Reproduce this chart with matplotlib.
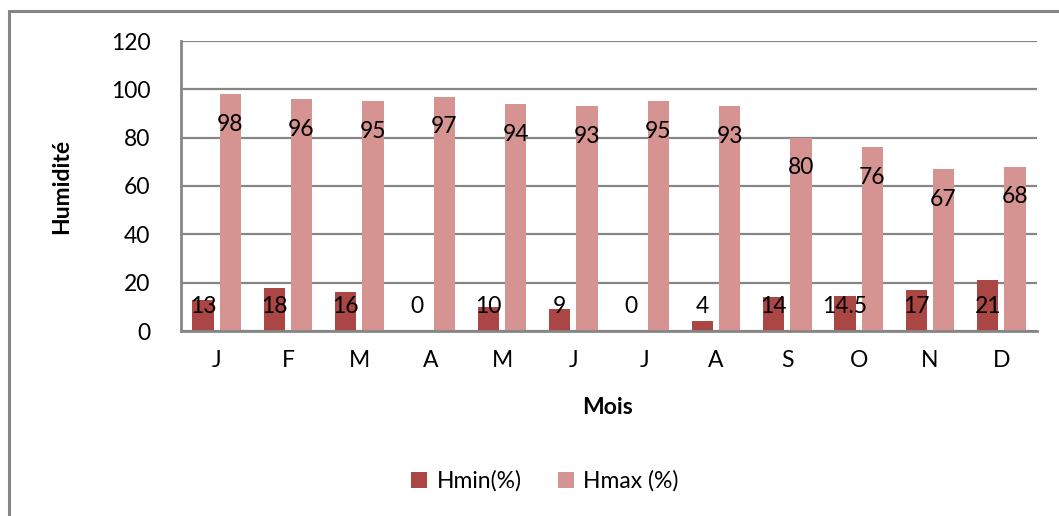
import matplotlib
matplotlib.use("Agg")
import matplotlib.pyplot as plt
import numpy as np
from matplotlib.patches import Rectangle

months = ["J", "F", "M", "A", "M", "J", "J", "A", "S", "O", "N", "D"]
hmin = [13, 18, 16, 0, 10, 9, 0, 4, 14, 14.5, 17, 21]
hmax = [98, 96, 95, 97, 94, 93, 95, 93, 80, 76, 67, 68]
hmin_labels = ["13", "18", "16", "0", "10", "9", "0", "4", "14", "14.5", "17", "21"]
hmax_labels = ["98", "96", "95", "97", "94", "93", "95", "93", "80", "76", "67", "68"]
yticks = [0, 20, 40, 60, 80, 100, 120]

plt.rcParams['font.family'] = ['Lato', 'DejaVu Sans']

c_min = "#AA4643"
c_max = "#D59392"
grid_c = "#868686"

fig = plt.figure(figsize=(10.59, 5.16), dpi=100)
W, H = 1059, 516

# outer chart frame (right/bottom edges beyond image)
fig.patches.append(Rectangle((9 / W, -0.1), 1.2, 1 - 11 / H + 0.1,
                             transform=fig.transFigure, fill=False,
                             edgecolor=grid_c, linewidth=2.2))

ax = fig.add_axes([181 / W, 1 - 331 / H, (1037 - 181) / W, (331 - 41) / H])
x = np.arange(len(months))
bw = 0.30
off = 0.19
ax.bar(x - off, hmin, width=bw, color=c_min, zorder=3, label="Hmin(%)")
ax.bar(x + off, hmax, width=bw, color=c_max, zorder=3, label="Hmax (%)")

fs = 16.5
for i in range(len(months)):
    ax.text(x[i] - off, 10, hmin_labels[i], ha="center", va="center",
            fontsize=fs, color="black", zorder=4)
    ax.text(x[i] + off, hmax[i] - 12.5, hmax_labels[i], ha="center", va="center",
            fontsize=fs, color="black", zorder=4)

ax.set_xlim(-0.5, len(months) - 0.5)
ax.set_ylim(0, 120)
ax.set_yticks(yticks)
ax.set_yticklabels([str(v) for v in yticks], fontsize=fs)
ax.set_xticks(x)
ax.set_xticklabels(months, fontsize=fs)
ax.tick_params(axis="both", length=0)
ax.tick_params(axis="x", pad=14)
ax.tick_params(axis="y", pad=22)
ax.yaxis.grid(True, color=grid_c, linewidth=1.6, zorder=0)
ax.set_axisbelow(True)
for s in ["top", "right"]:
    ax.spines[s].set_visible(False)
for s in ["left", "bottom"]:
    ax.spines[s].set_color(grid_c)
    ax.spines[s].set_linewidth(2)
    ax.spines[s].set_zorder(5)

fig.text(62 / W, 1 - 186 / H, "Humidité", rotation=90, ha="center", va="center",
         fontsize=16.5, fontweight="bold")
fig.text(608 / W, 1 - 408 / H, "Mois", ha="center", va="center",
         fontsize=16.5, fontweight="bold")

leg = fig.legend(loc="center", bbox_to_anchor=(545 / W, 1 - 481 / H), ncol=2,
                 frameon=False, fontsize=fs, handlelength=0.7, handleheight=0.7,
                 handletextpad=0.4, columnspacing=1.6)

fig.savefig("out.png", dpi=100)
